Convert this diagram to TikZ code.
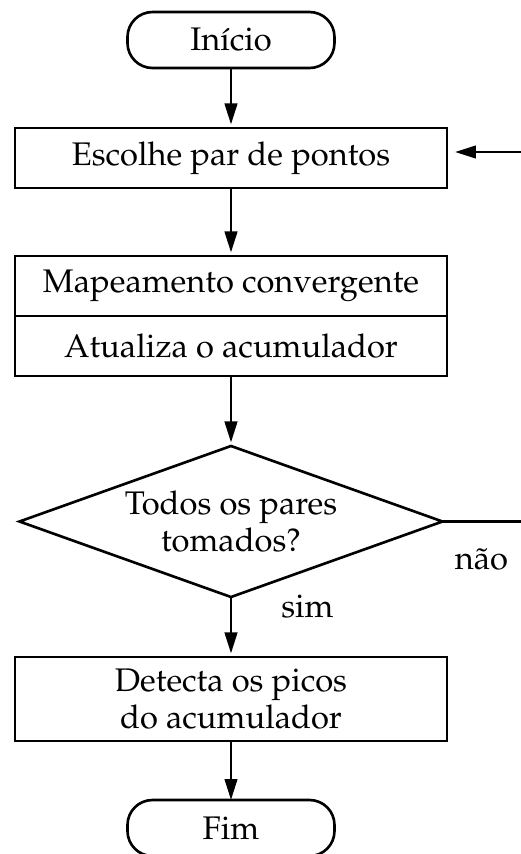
\documentclass[tikz,border=0pt]{standalone}
\usepackage[T1]{fontenc}
\usepackage{mathpazo}
\usetikzlibrary{shapes, arrows.meta, positioning, calc}

\begin{document}
\begin{tikzpicture}[
		% --- ESTILOS DO FLUXOGRAMA ---
		terminal/.style = {draw, rectangle, rounded corners=0.5cm, minimum height=1.12cm, minimum width=4.14cm, align=center, outer sep=0pt},
		block/.style = {draw, rectangle, minimum height=1.2cm, minimum width=8.64cm, align=center, outer sep=0pt},
		decision/.style = {draw, diamond, aspect=2.8, inner sep=0pt, minimum width=8.46cm, minimum height=3.02cm, align=center, outer sep=0pt},
		rotulo/.style = {inner sep=0pt},
		font=\fontsize{18.6}{20.8}\selectfont,
		line width=1.5pt,
		>={Triangle[length=0.42cm, width=0.25cm]}
		]
		
		% --- MOLDURA (a figura original esta cortada embaixo e a direita) ---
		\clip (-4.62,0.8) rectangle (5.8,-16.28);
		
		% --- EIXO PRINCIPAL ---
		\node [terminal] (inicio) at (0,0) {In\'{\i}cio};
		\node [block, below=1.2cm of inicio] (escolhe) {Escolhe par de pontos};
		\node [block, below=1.36cm of escolhe] (mapeamento) {Mapeamento convergente};
		\node [block, below=0pt of mapeamento] (atualiza) {Atualiza o acumulador};
		\node [decision, below=1.4cm of atualiza] (todos) {Todos os pares\\tomados?};
		\node [block, minimum height=1.68cm, below=1.2cm of todos] (detecta) {Detecta os picos\\do acumulador};
		\node [terminal, below=1.18cm of detecta] (fim) {Fim};
		
		% --- CONEXOES PRINCIPAIS ---
		\draw [->, shorten >=2pt] (inicio) -- (escolhe);
		\draw [->, shorten >=2pt] (escolhe) -- (mapeamento);
		\draw [->, shorten >=2pt] (atualiza) -- (todos);
		\draw [->, shorten >=2pt] (todos) -- (detecta);
		\draw [->] (detecta) -- (fim);
		
		% --- LACO DE RETORNO ---
		\draw [->] (todos.east) -- ++(2,0) |- ([xshift=0.16cm, yshift=0.12cm]escolhe.east);
		
		% --- ROTULOS DA DECISAO ---
		\node [rotulo, anchor=north west] (nao) at ([xshift=0.22cm, yshift=-0.5cm]todos.east) {n\~ao};
		\node [rotulo, anchor=west] (sim) at ([xshift=0.98cm, yshift=-0.2cm]todos.south) {sim};
		
	\end{tikzpicture}
\end{document}
